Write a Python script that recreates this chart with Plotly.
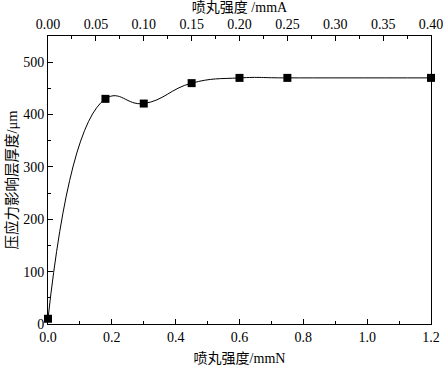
import plotly.graph_objects as go

x_mmN = [0.0, 0.18, 0.30, 0.45, 0.60, 0.75, 1.20]
thickness = [10, 430, 421, 460, 470, 470, 470]
top_ticks = [0.00, 0.05, 0.10, 0.15, 0.20, 0.25, 0.30, 0.35, 0.40]

font_serif = "Liberation Serif, Noto Sans CJK SC, serif"

fig = go.Figure()
fig.add_trace(go.Scatter(
    x=x_mmN, y=thickness, mode="lines+markers",
    line=dict(color="black", width=1, shape="spline", smoothing=1.3),
    marker=dict(symbol="square", size=8, color="black"),
    showlegend=False, cliponaxis=False,
))
# invisible trace for the top axis
fig.add_trace(go.Scatter(x=[0, 0.4], y=[None, None], xaxis="x2", yaxis="y",
                         mode="markers", showlegend=False, hoverinfo="skip"))

axis_common = dict(showgrid=False, zeroline=False, linecolor="black", linewidth=1, automargin=False,
                   ticklabeloverflow="allow",
                   ticks="inside", tickcolor="black", tickfont=dict(size=14, family=font_serif, color="black"))

fig.update_layout(
    width=443, height=366,
    margin=dict(l=48, r=12, t=36, b=42),
    paper_bgcolor="white", plot_bgcolor="white",
    font=dict(family=font_serif, color="black"),
    xaxis=dict(range=[0, 1.2], tickvals=[0, 0.2, 0.4, 0.6, 0.8, 1.0, 1.2],
               ticktext=["0.0", "0.2", "0.4", "0.6", "0.8", "1.0", "1.2"],
               ticklen=5, minor=dict(dtick=0.1, ticks="inside", ticklen=3, tickcolor="black"),
               showline=True, mirror=False,
               title=dict(text="喷丸强度/mmN", font=dict(size=14, family=font_serif), standoff=17),
               **axis_common),
    xaxis2=dict(range=[0, 0.4], overlaying="x", side="top", anchor="y",
                tickvals=top_ticks, ticktext=[f"{v:.2f}" for v in top_ticks],
                ticklen=5, minor=dict(dtick=0.025, ticks="inside", ticklen=3, tickcolor="black"),
                showline=True,
                title=dict(text="喷丸强度 /mmA", font=dict(size=14, family=font_serif), standoff=2),
                **axis_common),
    yaxis=dict(range=[0, 550], tickvals=[0, 100, 200, 300, 400, 500],
               ticklen=5, minor=dict(dtick=50, ticks="inside", ticklen=3, tickcolor="black"),
               showline=True, mirror=True,
               title=dict(text="压应力影响层厚度/μm", font=dict(size=14.5, family=font_serif), standoff=2),
               **axis_common),
)

fig.write_html("out.html", post_script="document.body.style.margin='0';",
               config={"displayModeBar": False})
